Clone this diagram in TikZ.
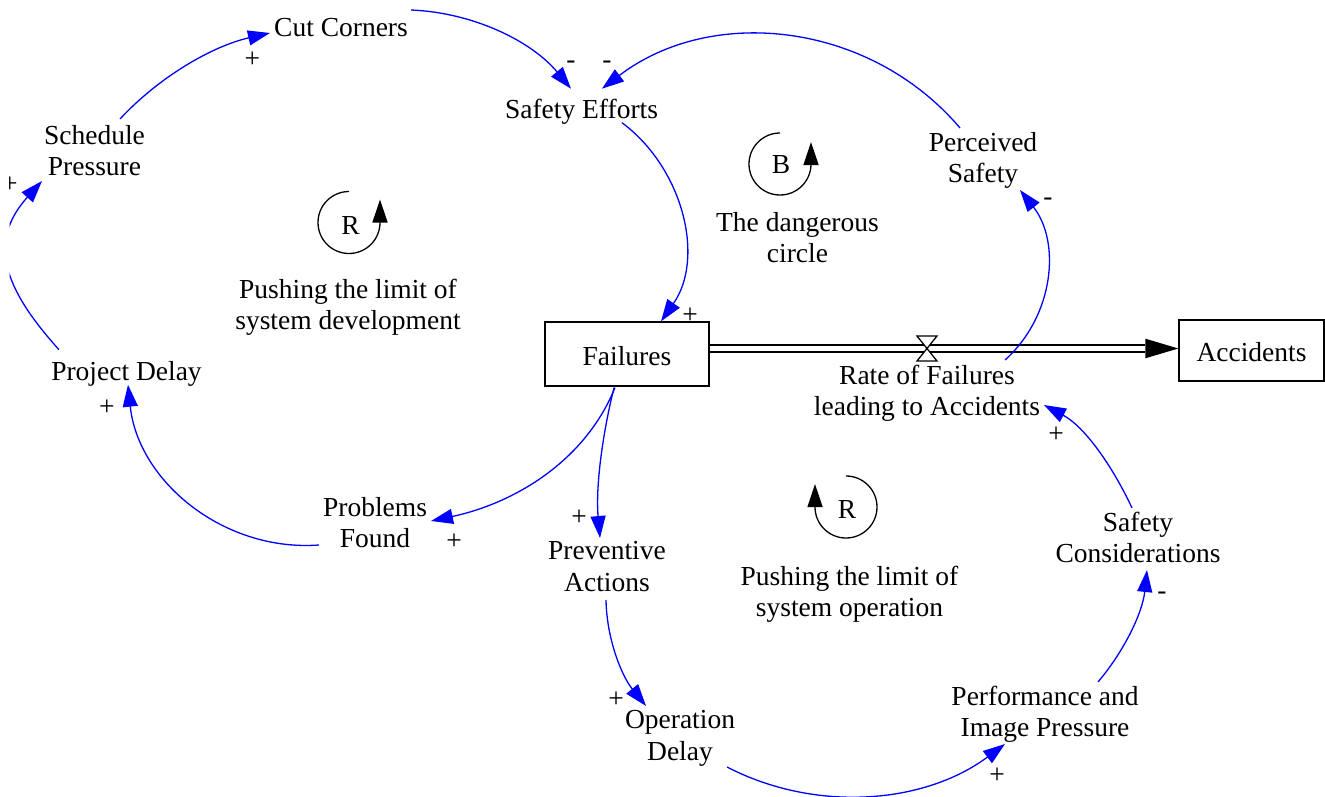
\documentclass[tikz,border=0pt]{standalone}
\usepackage{fontspec}
\setmainfont{Liberation Serif}
\usetikzlibrary{arrows.meta}
\newcommand{\topstrut}{\vrule height 27pt depth 0pt width 0pt}
\newcommand{\botstrut}{\vrule height 0pt depth 9.45pt width 0pt}
\begin{document}
\begin{tikzpicture}[x=1pt,y=-1pt,
  every node/.style={font=\fontsize{27.5}{31.5}\selectfont},
  lbl/.style={align=center, inner sep=0pt,
    execute at begin node=\topstrut, execute at end node=\botstrut},
  stock/.style={draw, line width=1.3pt, minimum width=164pt, minimum height=64pt, inner sep=0pt,
    text height=22.8pt, text depth=0pt},
  pol/.style={inner sep=0pt, text height=13.75pt, text depth=0pt},
  looplbl/.style={inner sep=0pt},
  link/.style={blue, line width=1.3pt, -{Triangle[length=22pt,width=15pt]}},
  pipe/.style={line width=1.6pt, double=white, double distance=5pt},
  loopline/.style={line width=1.3pt, -{Triangle[length=23pt,width=15pt]}},
]
\useasboundingbox (0,0) rectangle (1325,797);
\clip (9.5,0) rectangle (1325,797);

% variables
\node[lbl] (cut)   at (341,27.7)    {Cut Corners};
\node[lbl] (safe)  at (581.5,109.7) {Safety Efforts};
\node[lbl] (sched) at (94.5,155)    {Schedule\\Pressure};
\node[lbl] (perc)  at (983,162)     {Perceived\\Safety};
\node[lbl] (proj)  at (126.5,371.7) {Project Delay};
\node[lbl] (prob)  at (375,527)     {Problems\\Found};
\node[lbl] (prev)  at (607,571)     {Preventive\\Actions};
\node[lbl] (opd)   at (680,740)     {Operation\\Delay};
\node[lbl] (perf)  at (1045,716)    {Performance and\\Image Pressure};
\node[lbl] (scons) at (1138,542)    {Safety\\Considerations};
\node[lbl] (rate)  at (927,395)     {Rate of Failures\\leading to Accidents};

% stocks
\node[stock] (fail) at (627,354) {Failures};
\node[stock, minimum width=145pt, minimum height=61pt] (acc) at (1251.5,350.5) {Accidents};

% loop names
\node[lbl] (devtxt)  at (348,309)   {Pushing the limit of\\system development};
\node[lbl] (optxt)   at (849.5,596) {Pushing the limit of\\system operation};
\node[lbl] (dangtxt) at (797.5,242) {The dangerous\\circle};

% flow with valve
\draw[pipe] ([shift={(0,-5.5)}]fail.east) -- ([shift={(-33,-2)}]acc.west);
\fill ([shift={(0,-2)}]acc.west) -- ++(-33,-9.8) -- ++(0,19.6) -- cycle;
\coordinate (valve) at (927,348.5);
\draw[line width=1.3pt, fill=white] ([shift={(-10,-12.5)}]valve) -- ++(20,0) -- ++(-20,25) -- ++(20,0) -- cycle;

% causal links
\draw[link] ([shift={(25.5,-36)}]sched.center) .. controls +(40,-43) and +(-57,13) .. ([shift={(-71,5.3)}]cut.center);
\draw[link] ([shift={(70,-17.7)}]cut.center) .. controls +(62,2.5) and +(-39.6,-47.7) .. ([shift={(-10.5,-21)}]safe.center);
\draw[link] ([shift={(-23,-34)}]perc.center) .. controls +(-90,-106) and +(110,-84) .. ([shift={(20.5,-21)}]safe.center);
\draw[link] ([shift={(40.5,13)}]safe.center) .. controls +(61.5,46) and +(44,-63) .. ([shift={(34,0)}]fail.north);
\draw[link] ([shift={(78,-35)}]rate.center) .. controls +(49,-44) and +(41,52) .. ([shift={(37,28)}]perc.center);
\draw[link] ([shift={(-12,1)}]fail.south) .. controls +(-31,76) and +(80,-17) .. ([shift={(56,-6)}]prob.center);
\draw[link] ([shift={(-13,1)}]fail.south) .. controls +(-12,48.5) and +(-4.4,-50) .. ([shift={(-7,-33)}]prev.center);
\draw[link] ([shift={(-56,18)}]prob.center) .. controls +(-96,7) and +(10,96) .. ([shift={(1.5,13)}]proj.center);
\draw[link] ([shift={(-67.5,-22)}]proj.center) .. controls +(-55,-61) and +(-55,61) .. ([shift={(-52.5,26)}]sched.center);
\draw[link] ([shift={(-1,29)}]prev.center) .. controls +(0.7,39) and +(-24.4,-30.2) .. ([shift={(-34,-34)}]opd.center);
\draw[link] ([shift={(47,27)}]opd.center) .. controls +(89,46) and +(-80.6,60) .. ([shift={(-40,28)}]perf.center);
\draw[link] ([shift={(53,-34)}]perf.center) .. controls +(27,-32) and +(-4.4,42) .. ([shift={(9,28)}]scons.center);
\draw[link] ([shift={(-6,-34)}]scons.center) .. controls +(-19.4,-41.7) and +(40.6,21.6) .. ([shift={(117,10)}]rate.center);

% link polarities
\node[pol] (p1)  at (252.5,61) {+};
\node[pol] (p2)  at (571,62)   {-};
\node[pol] (p3)  at (607,62)   {-};
\node[pol] (p4)  at (690,317)  {+};
\node[pol] (p5)  at (1048,199) {-};
\node[pol] (p6)  at (107,409)  {+};
\node[pol] (p7)  at (454,543)  {+};
\node[pol] (p8)  at (579,519)  {+};
\node[pol] (p9)  at (616,701)  {+};
\node[pol] (p10) at (997,777)  {+};
\node[pol] (p11) at (1162,593) {-};
\node[pol] (p12) at (1056,436) {+};
\node[pol] (p13) at (10,186)   {+};

% loop identifiers
\node[looplbl] (loopA) at (350.5,225.5) {R};
\draw[loopline] ([shift={(-1.5,-34)}]loopA.center) arc[start angle=90,end angle=360,radius=31pt] -- ++(0,-23);
\node[looplbl] (loopB) at (781,165) {B};
\draw[loopline] ([shift={(-1,-32)}]loopB.center) arc[start angle=90,end angle=360,radius=31pt] -- ++(0,-22);
\node[looplbl] (loopC) at (847,509) {R};
\draw[loopline] ([shift={(-1,-33)}]loopC.center) arc[start angle=90,end angle=-180,radius=31pt] -- ++(0,-23);
\end{tikzpicture}
\end{document}
